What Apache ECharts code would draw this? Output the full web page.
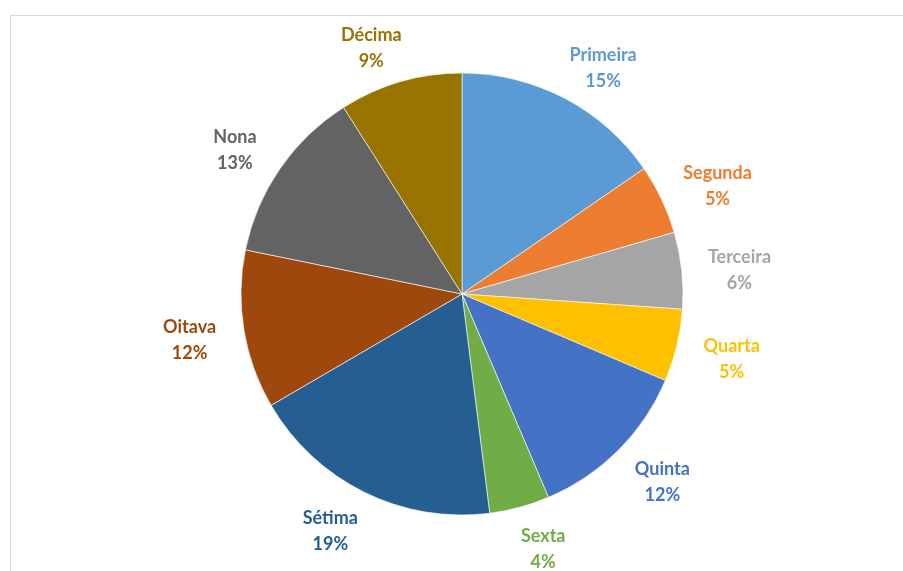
<!DOCTYPE html>
<html>
<head>
<meta charset="utf-8">
<script src="https://cdn.jsdelivr.net/npm/echarts@6/dist/echarts.min.js"></script>
<style>
html,body{margin:0;padding:0;background:#fff;}
#chart{width:903px;height:571px;}
</style>
</head>
<body>
<div id="chart"></div>
<script>
const categories = ['Primeira','Segunda','Terceira','Quarta','Quinta','Sexta','Sétima','Oitava','Nona','Décima'];
const values = [15.4, 5.1, 5.6, 5.3, 12.2, 4.4, 18.6, 11.6, 12.8, 9.0];
const colors = ['#5B9BD5','#ED7D31','#A5A5A5','#FFC000','#4472C4','#70AD47','#255E91','#9E480E','#636363','#997300'];

const CX = 462, CY = 294, R = 221, LABEL_DIST = 39;
const total = values.reduce((a, b) => a + b, 0);
const mids = [];
let acc = 0;
values.forEach(v => { mids.push((acc + v / 2) / total * 2 * Math.PI); acc += v; });

const chart = echarts.init(document.getElementById('chart'));
chart.setOption({
  backgroundColor: '#fff',
  animation: false,
  graphic: [{
    type: 'rect', silent: true,
    shape: { x: 10.5, y: 15.5, width: 1000, height: 1000 },
    style: { fill: 'none', stroke: '#d9d9d9', lineWidth: 1 }
  }],
  series: [{
    type: 'pie',
    center: [CX, CY],
    radius: R,
    startAngle: 90,
    clockwise: true,
    percentPrecision: 0,
    itemStyle: { borderColor: '#ffffff', borderWidth: 0.6 },
    label: {
      show: true,
      position: 'outside',
      formatter: '{b}\n{d}%',
      fontFamily: 'Lato',
      fontWeight: 'bold',
      fontSize: 18,
      lineHeight: 26,
      align: 'center'
    },
    labelLine: { show: false },
    labelLayout: function (p) {
      const a = mids[p.dataIndex];
      const ux = Math.sin(a), uy = -Math.cos(a);
      const w = p.labelRect.width;
      const d = R + LABEL_DIST;
      return {
        x: CX + ux * d + Math.sign(ux) * w * 0.3,
        y: CY + uy * d + 4,
        align: 'center', verticalAlign: 'middle'
      };
    },
    data: categories.map((c, i) => ({
      name: c, value: values[i],
      itemStyle: { color: colors[i] },
      label: { color: colors[i] }
    }))
  }]
});
</script>
</body>
</html>
